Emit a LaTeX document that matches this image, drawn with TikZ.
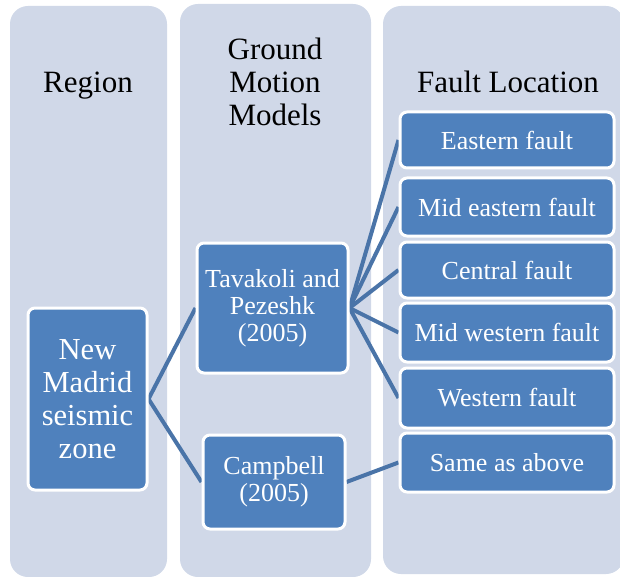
\documentclass[tikz,border=0pt]{standalone}
\usepackage{fontspec}
\setmainfont{Liberation Serif}
\newfontfamily\tnr{Liberation Serif}
\pgfdeclarelayer{lanes}
\pgfdeclarelayer{links}
\pgfsetlayers{lanes,links,main}
\definecolor{lanefill}{HTML}{D0D8E8}
\definecolor{boxfill}{HTML}{4F81BD}
\definecolor{linkcol}{HTML}{4A74A8}
\tikzset{
  lane/.style={fill=lanefill, rounded corners=18pt},
  head/.style={align=center, font=\tnr\fontsize{31}{33}\selectfont, text=black},
  box/.style={fill=boxfill, draw=white, line width=3pt, rounded corners=7pt,
    align=center, text=white, inner sep=2pt},
  boxtxt/.style={font=\tnr\fontsize{26}{27}\selectfont},
  bigtxt/.style={font=\tnr\fontsize{30.5}{33}\selectfont},
  link/.style={draw=linkcol, line width=4pt}
}
\begin{document}
\begin{tikzpicture}[x=1pt,y=-1pt]
\useasboundingbox (0,0) rectangle (620,577);
\begin{pgfonlayer}{lanes}
\fill[lane] (10,6) rectangle (167,577);
\fill[lane] (180,4) rectangle (371,577);
\fill[lane] (383,6) rectangle (624,574);
\end{pgfonlayer}
\node[head,anchor=base] (h1) at (88,93) {Region};
\node[head] (h2) at (275,82) {Ground\\Motion\\Models};
\node[head,anchor=base] (h3) at (508,93) {Fault Location};

\node[box,bigtxt,minimum width=119pt,minimum height=182pt] (nm) at (87.5,399) {New\\Madrid\\seismic\\zone};
\node[box,boxtxt,minimum width=151pt,minimum height=130pt] (tp) at (272.5,308) {Tavakoli and\\Pezeshk\\(2005)};
\node[box,boxtxt,minimum width=142pt,minimum height=94pt] (cb) at (274,482) {Campbell\\(2005)};

\node[box,boxtxt,minimum width=214pt,minimum height=56pt] (ef) at (507,140) {Eastern fault};
\node[box,boxtxt,minimum width=214pt,minimum height=58pt] (me) at (507,207) {Mid eastern fault};
\node[box,boxtxt,minimum width=214pt,minimum height=56pt] (cf) at (507,270) {Central fault};
\node[box,boxtxt,minimum width=214pt,minimum height=59pt] (mw) at (507,332.5) {Mid western fault};
\node[box,boxtxt,minimum width=214pt,minimum height=60pt] (wf) at (507,398) {Western fault};
\node[box,boxtxt,minimum width=214pt,minimum height=59pt] (sa) at (507,462.5) {Same as above};

\begin{pgfonlayer}{links}
\draw[link] (nm.east) -- (tp.west);
\draw[link] (nm.east) -- (cb.west);
\draw[link] (tp.east) -- (ef.west);
\draw[link] (tp.east) -- (me.west);
\draw[link] (tp.east) -- (cf.west);
\draw[link] (tp.east) -- (mw.west);
\draw[link] (tp.east) -- (wf.west);
\draw[link] (cb.east) -- (sa.west);
\end{pgfonlayer}
\end{tikzpicture}
\end{document}
